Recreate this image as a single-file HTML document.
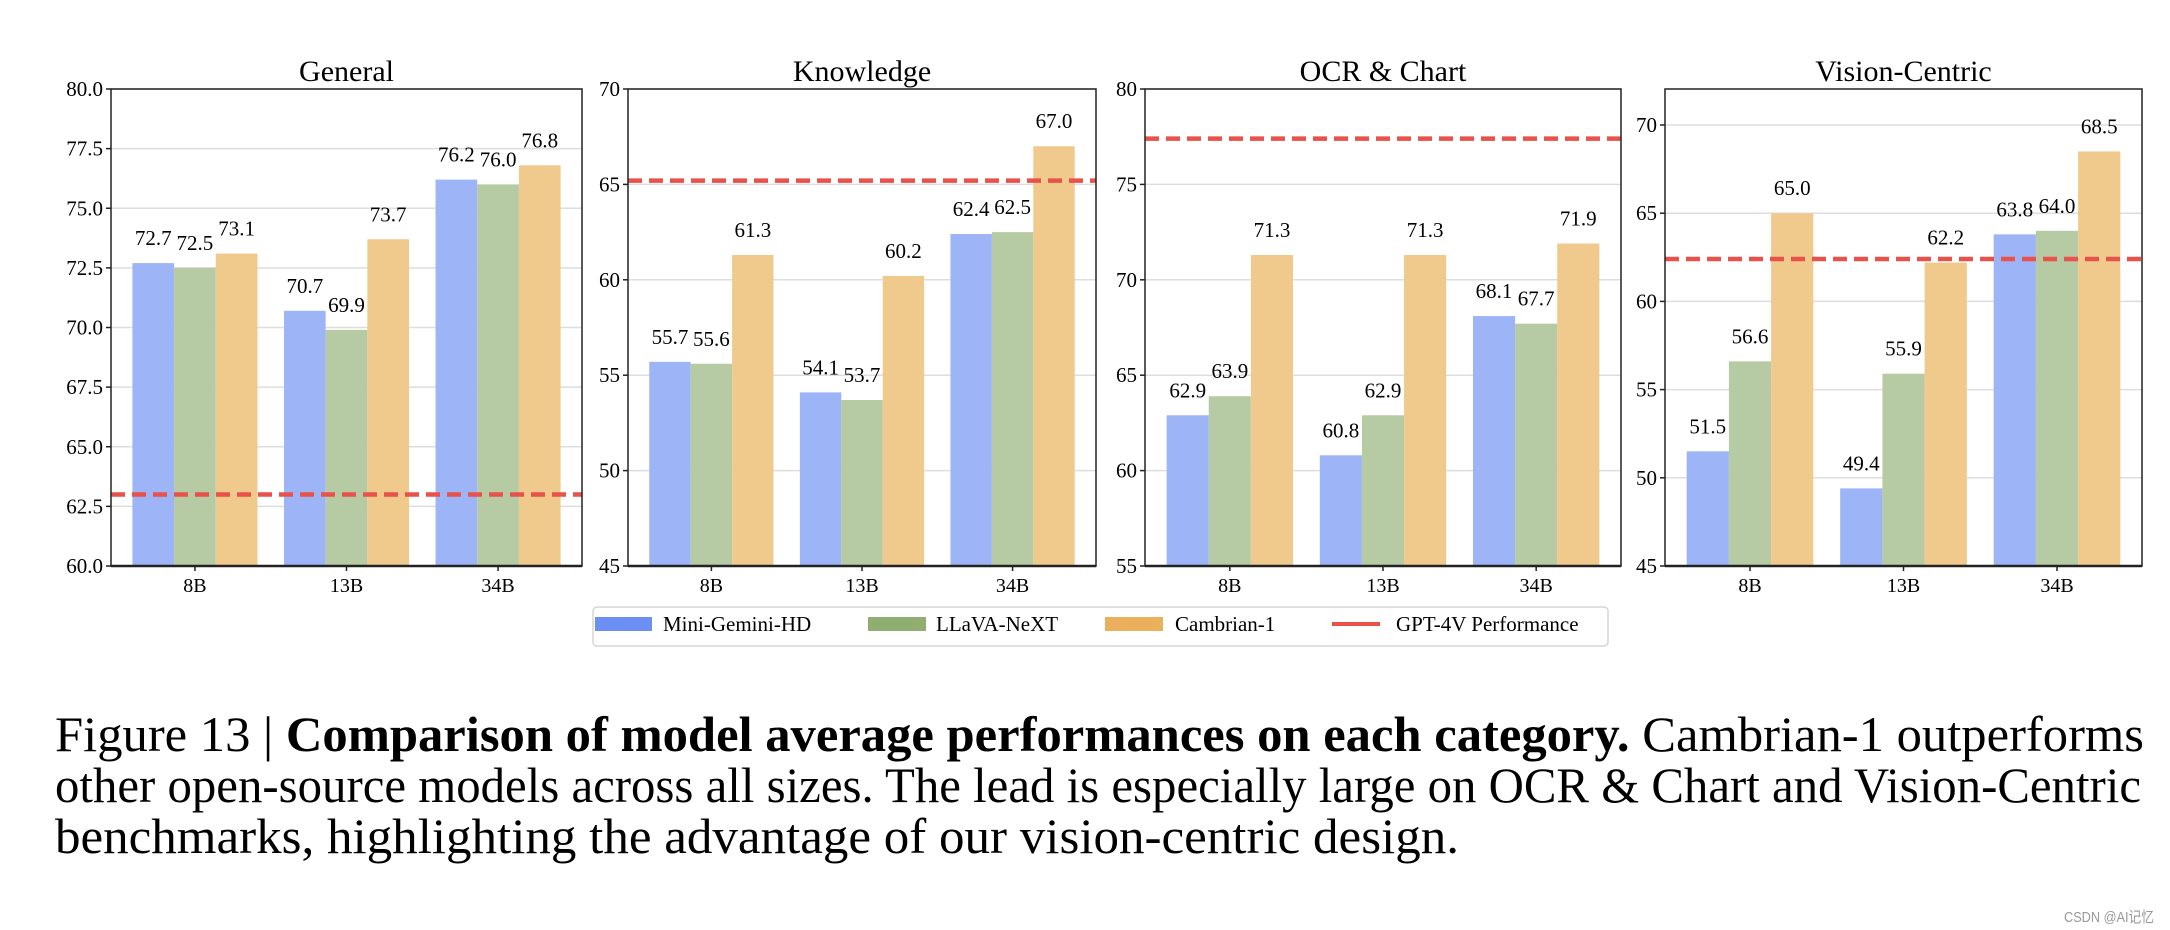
<!DOCTYPE html>
<html><head><meta charset="utf-8"><style>
html,body{margin:0;padding:0;background:#fff;}
svg{display:block;font-family:"Liberation Serif",serif;}
</style></head><body>
<svg id="fig" width="2170" height="930" viewBox="0 0 2170 930" xmlns="http://www.w3.org/2000/svg">
<g id="charts"></g>
<g id="legend">
  <rect x="593" y="607" width="1015" height="39" rx="4" fill="#fff" stroke="#d6d6d6" stroke-width="1.5"/>
  <rect x="595" y="617" width="57" height="14" fill="#6b8ff5"/>
  <text x="663" y="631" font-size="21">Mini-Gemini-HD</text>
  <rect x="868" y="617" width="58" height="14" fill="#8fae6f"/>
  <text x="936" y="631" font-size="21">LLaVA-NeXT</text>
  <rect x="1105" y="617" width="58" height="14" fill="#ebb05c"/>
  <text x="1175" y="631" font-size="21">Cambrian-1</text>
  <line x1="1332" y1="624" x2="1380" y2="624" stroke="#e8524a" stroke-width="4"/>
  <text x="1396" y="631" font-size="21">GPT-4V Performance</text>
</g>
<g font-size="50">
  <text x="55" y="751" textLength="2089" lengthAdjust="spacingAndGlyphs">Figure 13 | <tspan font-weight="bold">Comparison of model average performances on each category.</tspan> Cambrian-1 outperforms</text>
  <text x="55" y="802" textLength="2086" lengthAdjust="spacingAndGlyphs">other open-source models across all sizes.  The lead is especially large on OCR &amp; Chart and Vision-Centric</text>
  <text x="55" y="853" textLength="1404" lengthAdjust="spacingAndGlyphs">benchmarks, highlighting the advantage of our vision-centric design.</text>
</g>
<text x="2064" y="922" font-size="15" fill="#999" font-family="Liberation Sans, Noto Sans CJK SC, sans-serif" textLength="90" lengthAdjust="spacingAndGlyphs">CSDN @AI记忆</text>
</svg>
<script>
const categories = ["8B","13B","34B"];
const panelTitles = ["General","Knowledge","OCR & Chart","Vision-Centric"];
const miniGemini = [[72.7,70.7,76.2],[55.7,54.1,62.4],[62.9,60.8,68.1],[51.5,49.4,63.8]];
const llava = [[72.5,69.9,76.0],[55.6,53.7,62.5],[63.9,62.9,67.7],[56.6,55.9,64.0]];
const cambrian = [[73.1,73.7,76.8],[61.3,60.2,67.0],[71.3,71.3,71.9],[65.0,62.2,68.5]];
const gpt4v = [63.0,65.2,77.4,62.4];
const yMin = [60,45,55,45];
const yMax = [80,70,80,72.04];
const yTicks = [[60,62.5,65,67.5,70,72.5,75,77.5,80],[45,50,55,60,65,70],[55,60,65,70,75,80],[45,50,55,60,65,70]];
const tickDecimals = [1,0,0,0];

(function(){
const NS="http://www.w3.org/2000/svg";
const root=document.getElementById('charts');
const panelLeft=[111,628,1145,1665], panelRight=[582,1096,1621,2142];
const axTop=89, axBottom=566;
const fills=["#9db4f6","#b6cba4","#f0c98c"];
const seriesNames=["mini-gemini","llava","cambrian"];
function mk(tag,attrs,parent){const e=document.createElementNS(NS,tag);for(const k in attrs)e.setAttribute(k,attrs[k]);parent.appendChild(e);return e;}
for(let p=0;p<4;p++){
  const g=mk('g',{},root);
  
  
  const L=panelLeft[p],R=panelRight[p];
  const bw=0.275, x0=-1.5*bw, x1=2+1.5*bw, m=(x1-x0)*0.05;
  const xs=v=>L+(v-(x0-m))/((x1+m)-(x0-m))*(R-L);
  const ys=v=>axBottom-(v-yMin[p])/(yMax[p]-yMin[p])*(axBottom-axTop);
  yTicks[p].forEach(t=>{
    const y=ys(t);
    const gl=mk('line',{x1:L,x2:R,y1:y,y2:y,stroke:'#dedede','stroke-width':1.5},g);
    
    
    const tk=mk('line',{x1:L-5,x2:L,y1:y,y2:y,stroke:'#222','stroke-width':1.5},g);
    
    
    const tl=mk('text',{x:L-8,y:y+7,'font-size':21,'text-anchor':'end'},g);
    tl.textContent=t.toFixed(tickDecimals[p]);
    
    
  });
  const series=[miniGemini[p],llava[p],cambrian[p]];
  categories.forEach((c,i)=>{
    series.forEach((s,k)=>{
      const cx=i+(k-1)*bw;
      const xa=xs(cx-bw/2), xb=xs(cx+bw/2), y=ys(s[i]);
      const r=mk('rect',{x:xa,y:y,width:xb-xa,height:axBottom-y,fill:fills[k]},g);
      
      
      const vl=mk('text',{x:(xa+xb)/2,y:y-18,'font-size':21,'text-anchor':'middle'},g);
      vl.textContent=s[i].toFixed(1);
      
      
    });
    const tx=xs(i);
    const tk=mk('line',{x1:tx,x2:tx,y1:axBottom,y2:axBottom+5,stroke:'#222','stroke-width':1.5},g);
    
    
    const tl=mk('text',{x:tx,y:592,'font-size':20,'text-anchor':'middle'},g);
    tl.textContent=c;
    
    
  });
  const gy=ys(gpt4v[p]);
  const dl=mk('line',{x1:L,x2:R,y1:gy,y2:gy,stroke:'#e8524a','stroke-width':4.5,'stroke-dasharray':'14 7'},g);
  
  
  const fr=mk('rect',{x:L,y:axTop,width:R-L,height:axBottom-axTop,fill:'none',stroke:'#222','stroke-width':1.5},g);
  
  
  const bl=mk('line',{x1:L,x2:R,y1:axBottom,y2:axBottom,stroke:'#222','stroke-width':2.5},g);
  
  
  const tt=mk('text',{x:(L+R)/2,y:81,'font-size':30,'text-anchor':'middle'},g);
  tt.textContent=panelTitles[p];
  
  
}
})();
</script>
</body></html>
